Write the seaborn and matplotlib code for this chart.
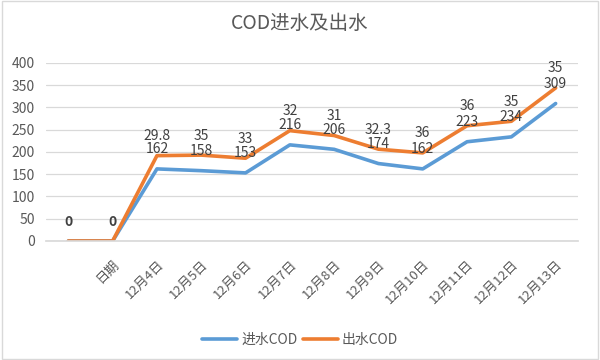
import matplotlib
matplotlib.use("Agg")
import matplotlib.pyplot as plt
import seaborn as sns
import pandas as pd
import numpy as np

categories = ["", "日期", "12月4日", "12月5日", "12月6日", "12月7日", "12月8日",
              "12月9日", "12月10日", "12月11日", "12月12日", "12月13日"]
cod_in = [0, 0, 162, 158, 153, 216, 206, 174, 162, 223, 234, 309]
cod_out = [0, 0, 29.8, 35, 33, 32, 31, 32.3, 36, 36, 35, 35]
y_ticks = [0, 50, 100, 150, 200, 250, 300, 350, 400]

sns.set_theme(style="white")
plt.rcParams['font.family'] = ['Noto Sans CJK SC', 'DejaVu Sans']

gray = "#595959"
blue = "#5B9BD5"
orange = "#ED7D31"

x = np.arange(len(categories))
stacked = np.array(cod_in) + np.array(cod_out)
df = pd.DataFrame({
    "x": np.concatenate([x, x]),
    "y": np.concatenate([cod_in, stacked]),
    "series": ["进水COD"] * len(x) + ["出水COD"] * len(x),
})

fig = plt.figure(figsize=(6, 3.6), dpi=100)
ax = fig.add_axes([0.077, 0.3306, 0.886, 0.4944])
sns.lineplot(data=df, x="x", y="y", hue="series", palette=[blue, orange],
             linewidth=2.6, ax=ax, legend=False)

for xi, v, s in zip(x, cod_in, cod_in):
    ax.annotate(f"{v:g}", (xi, s), xytext=(0, 14), textcoords="offset points",
                ha="center", va="center", fontsize=10, color="#404040",
                fontweight="bold" if v == 0 else "normal")
for xi, v, s in zip(x, cod_out, stacked):
    if v == 0:
        continue
    ax.annotate(f"{v:g}", (xi, s), xytext=(0, 14), textcoords="offset points",
                ha="center", va="center", fontsize=10, color="#404040")

ax.set_xlim(-0.5, len(categories) - 0.5)
ax.set_ylim(0, 400)
ax.set_yticks(y_ticks)
ax.set_yticklabels([str(t) for t in y_ticks], fontsize=10, color=gray)
ax.set_xticks(x)
ax.set_xticklabels(categories, rotation=45, ha="right", rotation_mode="anchor",
                   fontsize=9.5, color=gray)
ax.tick_params(axis="y", length=0, pad=8)
ax.tick_params(axis="x", length=0, pad=12)
ax.grid(axis="y", color="#D9D9D9", linewidth=0.9)
ax.set_axisbelow(True)
for sp in ["top", "right", "left"]:
    ax.spines[sp].set_visible(False)
ax.spines["bottom"].set_color("#D9D9D9")
ax.set_xlabel("")
ax.set_ylabel("")

fig.text(0.5, 0.935, "COD进水及出水", ha="center", va="center", fontsize=14, color=gray)

from matplotlib.lines import Line2D
handles = [Line2D([], [], color=blue, lw=2.6), Line2D([], [], color=orange, lw=2.6)]
fig.legend(handles, ["进水COD", "出水COD"], loc="center", bbox_to_anchor=(0.5, 0.055),
           ncol=2, frameon=False, fontsize=10, labelcolor=gray, handlelength=2.5,
           handletextpad=0.3, columnspacing=0.4)

border = plt.Rectangle((0.003, 0.004), 0.994, 0.992, transform=fig.transFigure,
                       fill=False, edgecolor="#D9D9D9", linewidth=1)
fig.patches.append(border)

fig.savefig("out.png", dpi=100)
